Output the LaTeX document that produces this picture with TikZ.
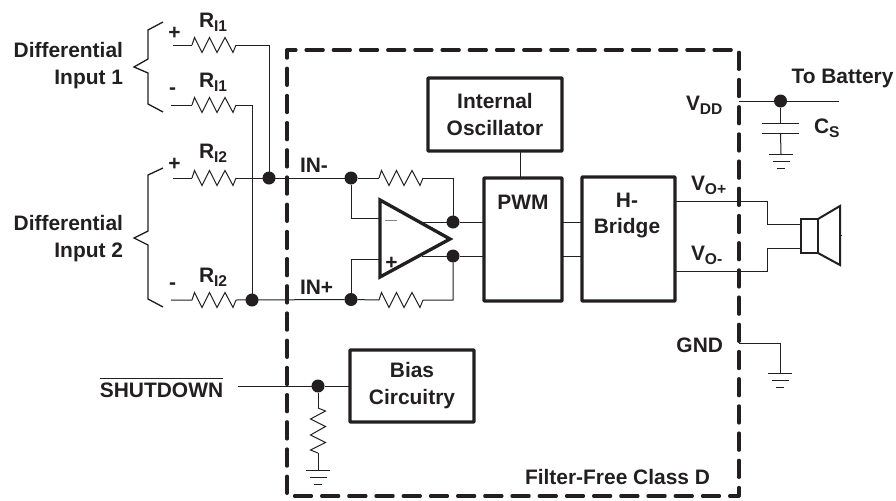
\documentclass[tikz,border=0pt]{standalone}
\usepackage{fontspec}
\setmainfont{Liberation Sans}
\definecolor{ink}{RGB}{35,31,32}
\newcommand{\lblsub}[2]{#1\raisebox{-0.22em}{\fontsize{11.7}{12}\selectfont #2}}
\tikzset{
  every picture/.style={line width=0.75pt},
  wire/.style={draw=ink,line width=0.75pt},
  heavy/.style={draw=ink,line width=2.5pt,line join=round},
  framed/.style={draw=ink,line width=2.5pt,line cap=round,line join=round,dash pattern=on 12.75pt off 7.65pt,dash phase=6.4pt},
  blockbox/.style={draw=ink,line width=2.5pt,rounded corners=0.5pt,inner sep=0pt,outer sep=0pt,align=center},
  lbl/.style={inner sep=0pt,outer sep=0pt,text=ink,font=\fontsize{15.7}{20.2}\selectfont\bfseries},
  jdot/.style={circle,fill=ink,inner sep=0pt,outer sep=0pt,minimum size=9.75pt},
  resh/.pic={\draw[wire] (0,0) coordinate (-in) -- (2.5,-7.5) -- (10,7.5) -- (17.5,-7.5) -- (25,7.5) -- (33,-7.5) -- (41,7.5) -- (44,0) coordinate (-out);},
  resv/.pic={\draw[wire] (0,0) coordinate (-in) -- (7.5,3) -- (-7.5,11) -- (7.5,18.5) -- (-7.5,27) -- (7.5,34.5) -- (-7.5,42) -- (0,45) coordinate (-out);},
  gnd/.pic={\coordinate (-top) at (0,0);
    \draw[wire] (-12,0) -- (12,0) (-8.5,7.5) -- (8.5,7.5) (-4,14.5) -- (4,14.5);},
}

\begin{document}
\begin{tikzpicture}[x=0.75pt,y=-0.75pt]
\useasboundingbox (0,0) rectangle (896,500);

% dashed device outline
\node [inner sep=0pt,outer sep=0pt,minimum width=339pt,minimum height=334.5pt] (frame) at (513,273) {};
\draw [framed] (frame.south east) -- (frame.north east) -- (frame.north west) -- (frame.south west) -- cycle;

% blocks
\node [blockbox,lbl,draw=ink,minimum width=100.5pt,minimum height=54.75pt] (osc) at (495,114.5) {Internal\\Oscillator};
\node [blockbox,minimum width=58.5pt,minimum height=92.25pt] (pwm) at (523,239.5) {};
\node [blockbox,minimum width=69.75pt,minimum height=93pt] (hb) at (628.5,239) {};
\node [blockbox,lbl,draw=ink,minimum width=93pt,minimum height=54pt] (bias) at (412,386) {Bias\\Circuitry};
\node [lbl] (pwmt) at (523,202) {PWM};
\node [lbl,align=center] (hbt) at (627,215.5) {H-\\Bridge};

% input resistors
\pic (ria) at (192,45) {resh};
\pic (rib) at (192,105) {resh};
\pic (ric) at (192,178) {resh};
\pic (rid) at (192,300) {resh};
\pic (rfa) at (379,178) {resh};
\pic (rfb) at (379,300) {resh};
\pic (rsd) at (318,408) {resv};

% junctions
\node [jdot] (ja) at (269,178) {};
\node [jdot] (jb) at (252,300) {};
\node [jdot] (jc) at (351,178) {};
\node [jdot] (jd) at (351,299.5) {};
\node [jdot] (je) at (453,222) {};
\node [jdot] (jf) at (453,256) {};
\node [jdot] (jg) at (318,386) {};
\node [jdot] (jh) at (780.5,101) {};

% free wire ends
\coordinate (ina) at (173,45);
\coordinate (inb) at (171,105);
\coordinate (inc) at (173,178);
\coordinate (ind) at (171,300);
\coordinate (insd) at (238,386);
\coordinate (oscout) at (520,151);
\coordinate (batt) at (839,101);
\coordinate (opa) at (380,200);
\coordinate (opb) at (380,277);
\coordinate (opc) at (450,239);

\draw [wire] (ina) -- (ria-in) (ria-out) -- (269,45) -- (ja);
\draw [wire] (inb) -- (rib-in) (rib-out) -- (252,105) -- (jb);
\draw [wire] (inc) -- (ric-in) (ric-out) -- (jc);
\draw [wire] (ind) -- (rid-in) (rid-out) -- (jd);
\draw [wire] (jc) -- (rfa-in) (rfa-out) -- (453,178) -- (je);
\draw [wire] (jd) -- (rfb-in) (rfb-out) -- (453,300) -- (jf);
\draw [wire] (jc) -- (351,218) -- (380,218);
\draw [wire] (jd) -- (351,259) -- (380,259);
\draw [wire] (422,222) -- (je) -- (je -| pwm.west);
\draw [wire] (422,256) -- (jf) -- (jf -| pwm.west);
\draw [wire] (je -| pwm.east) -- (je -| hb.west);
\draw [wire] (jf -| pwm.east) -- (jf -| hb.west);
\draw [wire] (oscout) -- (oscout |- pwm.north);

% amplifier
\draw [heavy,line join=miter] (opa) -- (opc) -- (opb) -- cycle;
\draw [draw=ink!55,line width=0.75pt] (385,220) -- (397,220);
\node [lbl] (opplus) at (391.5,263) {+};

% shutdown branch
\node [lbl] (sd) at (161.5,390) {SHUTDOWN};
\draw [wire] ([yshift=3.2pt]sd.north west) -- ([yshift=3.2pt]sd.north east);
\draw [wire] (insd) -- (jg) -- (bias.west);
\draw [wire] (jg) -- (rsd-in);
\pic (gsd) at (318,470) {gnd};
\draw [wire] (rsd-out) -- (gsd-top);

% supply and output
\draw [wire] (739,101) -- (jh) -- (batt);
\coordinate (capa) at (780.5,123);
\coordinate (capb) at (780.5,133);
\draw [wire] (jh) -- (capa);
\draw [wire] (762,123) -- (799,123) (762,133) -- (799,133);
\pic (gcs) at (781,154) {gnd};
\draw [wire] (capb) -- (gcs-top);
\pic (gg) at (780,373) {gnd};
\draw [wire] (739,343) -- (780,343) -- (gg-top);

% speaker
\node [draw=ink,line width=1.5pt,inner sep=0pt,outer sep=0pt,minimum width=12.75pt,minimum height=25.5pt] (spk) at (809.5,236) {};
\draw [draw=ink,line width=1.5pt,line join=miter] (spk.north east) -- (840,206) -- (840,265) -- (spk.south east);
\draw [wire] (840,235) -- (842,235);
\draw [wire] (hb.east |- 0,201) -- (767,201) -- (767,224) -- (801,224);
\draw [wire] (hb.east |- 0,271) -- (767,271) -- (767,248) -- (801,248);

% text
\node [lbl,anchor=base west] (lra) at (199,27) {\lblsub{R}{I1}};
\node [lbl,anchor=base west] (lrb) at (199,87) {\lblsub{R}{I1}};
\node [lbl,anchor=base west] (lrc) at (199,158) {\lblsub{R}{I2}};
\node [lbl,anchor=base west] (lrd) at (199,282) {\lblsub{R}{I2}};
\node [lbl] (pa) at (174.5,33) {+};
\node [lbl] (ma) at (172.5,91) {-};
\node [lbl] (pb) at (174.5,164) {+};
\node [lbl] (mb) at (172.5,286) {-};
\node [lbl,align=right,anchor=east] (dia) at (123,65.5) {Differential\\Input 1};
\node [lbl,align=right,anchor=east] (dib) at (123,239) {Differential\\Input 2};
\node [lbl,anchor=base west] (inm) at (300,172) {IN-};
\node [lbl,anchor=base west] (inp) at (300,294) {IN+};
\node [lbl,anchor=base west] (vdd) at (686,110) {\lblsub{V}{DD}};
\node [lbl,anchor=base west] (vop) at (691,190) {\lblsub{V}{O+}};
\node [lbl,anchor=base west] (vom) at (691,260) {\lblsub{V}{O-}};
\node [lbl,anchor=base west] (cs) at (814,133) {\lblsub{C}{S}};
\node [lbl] (tobatt) at (842.5,78) {To Battery};
\node [lbl,anchor=east] (gndt) at (723,345) {GND};
\node [lbl,anchor=east] (ffc) at (710,477) {Filter-Free Class D};

% braces
\draw [wire,line width=1pt] (163,22) -- (148,30) -- (148,59) -- (134,67) -- (148,73) -- (148,104) -- (163,112);
\draw [wire,line width=1pt] (163,168) -- (148,175) -- (148,231) -- (134,238) -- (148,245) -- (148,299) -- (163,307);

\end{tikzpicture}
\end{document}
